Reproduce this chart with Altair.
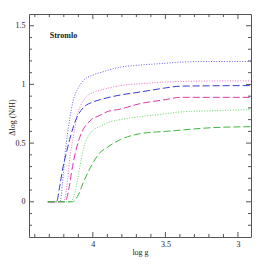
import altair as alt
import pandas as pd

# ---- data ----
names = ["blue dotted", "magenta dotted", "blue dashed", "magenta dashed", "green dotted", "green dashed"]
colors = ["#6464ee", "#ea6cc8", "#3a3ad8", "#dc3aa8", "#66d866", "#3cb83c"]
dashes = [[1, 1.6], [1, 1.6], [7, 3], [7, 3], [1, 1.6], [7, 3]]

logg_bdot = [4.31, 4.225, 4.21, 4.19, 4.16, 4.136, 4.10, 4.067, 4.0, 3.95, 3.81, 3.676, 3.5, 3.4, 3.2, 2.91]
val_bdot = [0.0, 0.0, 0.15, 0.42, 0.70, 0.86, 0.97, 1.03, 1.08, 1.10, 1.147, 1.165, 1.18, 1.19, 1.195, 1.195]

logg_mdot = [4.31, 4.20, 4.18, 4.16, 4.13, 4.11, 4.067, 4.0, 3.95, 3.81, 3.676, 3.5, 3.4, 3.0, 2.91]
val_mdot = [0.0, 0.0, 0.12, 0.36, 0.58, 0.72, 0.86, 0.93, 0.95, 0.99, 1.006, 1.02, 1.025, 1.03, 1.03]

logg_bdash = [4.31, 4.25, 4.23, 4.205, 4.18, 4.16, 4.11, 4.067, 4.0, 3.95, 3.81, 3.676, 3.5, 3.4, 3.2, 2.91]
val_bdash = [0.0, 0.0, 0.12, 0.30, 0.43, 0.53, 0.72, 0.80, 0.85, 0.87, 0.91, 0.935, 0.97, 0.985, 0.988, 0.99]

logg_mdash = [4.31, 4.19, 4.17, 4.14, 4.11, 4.09, 4.02, 3.95, 3.906, 3.81, 3.676, 3.5, 3.4, 3.2, 2.91]
val_mdash = [0.0, 0.0, 0.08, 0.30, 0.47, 0.55, 0.69, 0.737, 0.765, 0.79, 0.836, 0.87, 0.89, 0.89, 0.89]

logg_gdot = [4.31, 4.15, 4.13, 4.11, 4.067, 4.0, 3.95, 3.906, 3.81, 3.676, 3.5, 3.4, 3.2, 2.91]
val_gdot = [0.0, 0.0, 0.05, 0.16, 0.44, 0.61, 0.64, 0.67, 0.70, 0.725, 0.75, 0.765, 0.775, 0.785]

logg_gdash = [4.31, 4.14, 4.10, 4.067, 4.0, 3.95, 3.906, 3.81, 3.676, 3.5, 3.4, 3.2, 2.91]
val_gdash = [0.0, 0.0, 0.06, 0.16, 0.33, 0.42, 0.46, 0.53, 0.58, 0.60, 0.61, 0.63, 0.64]

x_major = [4.0, 3.5, 3.0]
x_minor = [4.4, 4.3, 4.2, 4.1, 3.9, 3.8, 3.7, 3.6, 3.4, 3.3, 3.2, 3.1]
y_major = [0.0, 0.5, 1.0, 1.5]
y_minor = [-0.2, -0.1, 0.1, 0.2, 0.3, 0.4, 0.6, 0.7, 0.8, 0.9, 1.1, 1.2, 1.3, 1.4]

label_text = ["Stromlo"]
label_x = [4.297]
label_y = [1.415]

# ---- build tables ----
curves = [
    (names[0], logg_bdot, val_bdot),
    (names[1], logg_mdot, val_mdot),
    (names[2], logg_bdash, val_bdash),
    (names[3], logg_mdash, val_mdash),
    (names[4], logg_gdot, val_gdot),
    (names[5], logg_gdash, val_gdash),
]
rows = []
for name, xs, ys in curves:
    for xv, yv in zip(xs, ys):
        rows.append({"series": name, "logg": xv, "val": yv})
df = pd.DataFrame(rows)

W, H = 222, 223
FONT = "Liberation Serif"
TICK = "#555555"

xscale = alt.Scale(domain=[4.44, 2.91], nice=False, zero=False)
yscale = alt.Scale(domain=[-0.3, 1.6], nice=False, zero=False)

xaxis = alt.Axis(values=x_major, format="~g", title="log g", grid=False, ticks=False,
                 domain=False, labelFont=FONT, labelFontSize=8, labelPadding=3,
                 labelColor="#222", titleFont=FONT, titleFontSize=8,
                 titleFontWeight="normal", titlePadding=0, titleColor="#222")
yaxis = alt.Axis(values=y_major, format="~g", title="Δlog (N/H)", grid=False, ticks=False,
                 domain=False, labelFont=FONT, labelFontSize=8, labelPadding=4,
                 labelColor="#222", titleFont=FONT, titleFontSize=8,
                 titleFontWeight="normal", titleColor="#222",
                 titleX=-13, titleY=103, titleAngle=270, titleBaseline="bottom",
                 titleAlign="center")

lines = alt.Chart(df).mark_line(strokeWidth=1, interpolate="monotone").encode(
    x=alt.X("logg:Q", scale=xscale, axis=xaxis),
    y=alt.Y("val:Q", scale=yscale, axis=yaxis),
    color=alt.Color("series:N", scale=alt.Scale(domain=names, range=colors), legend=None),
    strokeDash=alt.StrokeDash("series:N", scale=alt.Scale(domain=names, range=dashes), legend=None),
    detail="series:N",
)

xmaj = pd.DataFrame({"t": x_major})
xmin = pd.DataFrame({"t": x_minor})
ymaj = pd.DataFrame({"t": y_major})
ymin = pd.DataFrame({"t": y_minor})

def xticks(d, length):
    base = alt.Chart(d).mark_rule(color=TICK, strokeWidth=1)
    xe = alt.X("t:Q", scale=xscale, axis=xaxis)
    return [
        base.encode(x=xe, y=alt.value(H), y2=alt.value(H - length)),
        base.encode(x=xe, y=alt.value(0), y2=alt.value(length)),
    ]

def yticks(d, length):
    base = alt.Chart(d).mark_rule(color=TICK, strokeWidth=1)
    ye = alt.Y("t:Q", scale=yscale, axis=yaxis)
    return [
        base.encode(y=ye, x=alt.value(0), x2=alt.value(length)),
        base.encode(y=ye, x=alt.value(W), x2=alt.value(W - length)),
    ]

ticks = xticks(xmaj, 5) + xticks(xmin, 3) + yticks(ymaj, 5) + yticks(ymin, 3)

lab = alt.Chart(pd.DataFrame({"text": label_text, "x": label_x, "y": label_y})).mark_text(
    font=FONT, fontSize=8, fontWeight="bold", align="left", baseline="middle", color="#222"
).encode(
    x=alt.X("x:Q", scale=xscale, axis=xaxis),
    y=alt.Y("y:Q", scale=yscale, axis=yaxis),
    text="text:N",
)

chart = alt.layer(lines, *ticks, lab).properties(
    width=W, height=H,
    autosize=alt.AutoSizeParams(type="none"),
    padding={"left": 21, "top": 6, "right": 7, "bottom": 21},
).configure_view(stroke="#555555", strokeWidth=1)

chart.save("out.html", embed_options={"renderer": "svg", "actions": False})
